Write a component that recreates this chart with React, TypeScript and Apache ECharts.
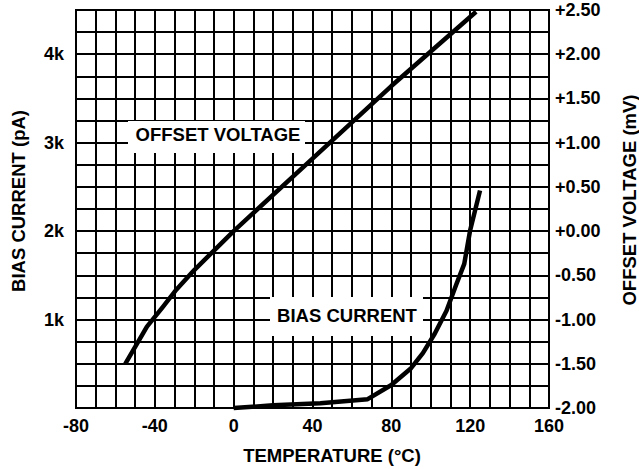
import React, { useEffect, useRef } from "react";
import * as echarts from "echarts";

// Temperature (°C) vs offset voltage (mV), right axis
const offsetTemp = [-55, -44, -36, -29, -20, -10, 0, 40, 80, 123];
const offsetMv = [-1.5, -1.08, -0.86, -0.66, -0.44, -0.22, 0, 0.82, 1.64, 2.48];

// Temperature (°C) vs bias current (pA), left axis
const biasTemp = [0, 20, 44, 68, 80, 90, 96, 102, 108, 113, 117, 120, 125];
const biasPa = [0, 30, 55, 100, 260, 450, 620, 840, 1100, 1400, 1630, 2010, 2460];

const xTickLabels = [-80, -40, 0, 40, 80, 120, 160];
const leftTickLabels = [1000, 2000, 3000, 4000];

const FONT = '"Liberation Sans", Arial, Helvetica, sans-serif';

export default function App() {
  const ref = useRef<HTMLDivElement>(null);
  useEffect(() => {
    if (!ref.current) return;
    const chart = echarts.init(ref.current, null, { renderer: "svg" });
    const lineStyle = { color: "#000", width: 2 };
    const labelStyle = {
      color: "#000",
      fontFamily: FONT,
      fontWeight: "bold" as const,
      fontSize: 18,
    };
    const titleFont = `bold 18.5px ${FONT}`;
    chart.setOption({
      animation: false,
      backgroundColor: "#fff",
      grid: {
        left: 76,
        right: 90,
        top: 10,
        bottom: 61,
        show: true,
        borderColor: "#000",
        borderWidth: 2,
        backgroundColor: "transparent",
        outerBoundsMode: "none",
        containLabel: false,
      },
      xAxis: {
        type: "value",
        min: -80,
        max: 160,
        interval: 10,
        axisLine: { show: true, lineStyle },
        axisTick: { show: false },
        splitLine: { show: true, lineStyle },
        axisLabel: {
          ...labelStyle,
          margin: 9,
          formatter: (v: number) => (xTickLabels.includes(Math.round(v)) ? String(Math.round(v)) : ""),
        },
      },
      yAxis: [
        {
          type: "value",
          position: "left",
          min: 0,
          max: 4500,
          interval: 250,
          axisLine: { show: true, lineStyle },
          axisTick: { show: false },
          splitLine: { show: true, lineStyle },
          axisLabel: {
            ...labelStyle,
            margin: 12,
            formatter: (v: number) =>
              leftTickLabels.includes(Math.round(v)) ? `${Math.round(v) / 1000}k` : "",
          },
        },
        {
          type: "value",
          position: "right",
          min: -2,
          max: 2.5,
          interval: 0.25,
          axisLine: { show: true, lineStyle },
          axisTick: { show: false },
          splitLine: { show: false },
          axisLabel: {
            ...labelStyle,
            margin: 6,
            formatter: (v: number) => {
              const c = Math.round(v * 100);
              if (c % 50 !== 0) return "";
              return (c >= 0 ? "+" : "-") + (Math.abs(c) / 100).toFixed(2);
            },
          },
        },
      ],
      series: [
        {
          type: "line",
          name: "OFFSET VOLTAGE",
          yAxisIndex: 1,
          data: offsetTemp.map((t, i) => [t, offsetMv[i]]),
          showSymbol: false,
          clip: false,
          lineStyle: { color: "#000", width: 4.5, cap: "butt", join: "round" },
        },
        {
          type: "line",
          name: "BIAS CURRENT",
          yAxisIndex: 0,
          data: biasTemp.map((t, i) => [t, biasPa[i]]),
          showSymbol: false,
          clip: false,
          lineStyle: { color: "#000", width: 4.5, cap: "butt", join: "round" },
        },
      ],
      graphic: [
        { type: "rect", shape: { x: 128, y: 121, width: 177, height: 32 }, style: { fill: "#fff" }, z: 50 },
        {
          type: "text",
          x: 218,
          y: 134,
          z: 51,
          style: { text: "OFFSET VOLTAGE", fill: "#000", font: titleFont, align: "center", verticalAlign: "middle" },
        },
        { type: "rect", shape: { x: 270, y: 297, width: 153, height: 39 }, style: { fill: "#fff" }, z: 50 },
        {
          type: "text",
          x: 347,
          y: 315.5,
          z: 51,
          style: { text: "BIAS CURRENT", fill: "#000", font: titleFont, align: "center", verticalAlign: "middle" },
        },
        {
          type: "text",
          x: 332,
          y: 455,
          z: 51,
          style: { text: "TEMPERATURE (°C)", fill: "#000", font: titleFont, align: "center", verticalAlign: "middle" },
        },
        {
          type: "text",
          x: 18,
          y: 201,
          rotation: Math.PI / 2,
          z: 51,
          style: { text: "BIAS CURRENT (pA)", fill: "#000", font: titleFont, align: "center", verticalAlign: "middle" },
        },
        {
          type: "text",
          x: 629.5,
          y: 200,
          rotation: Math.PI / 2,
          z: 51,
          style: { text: "OFFSET VOLTAGE (mV)", fill: "#000", font: titleFont, align: "center", verticalAlign: "middle" },
        },
      ],
    });
    return () => chart.dispose();
  }, []);
  return <div ref={ref} style={{ position: "fixed", left: 0, top: 0, width: 639, height: 469 }} />;
}
